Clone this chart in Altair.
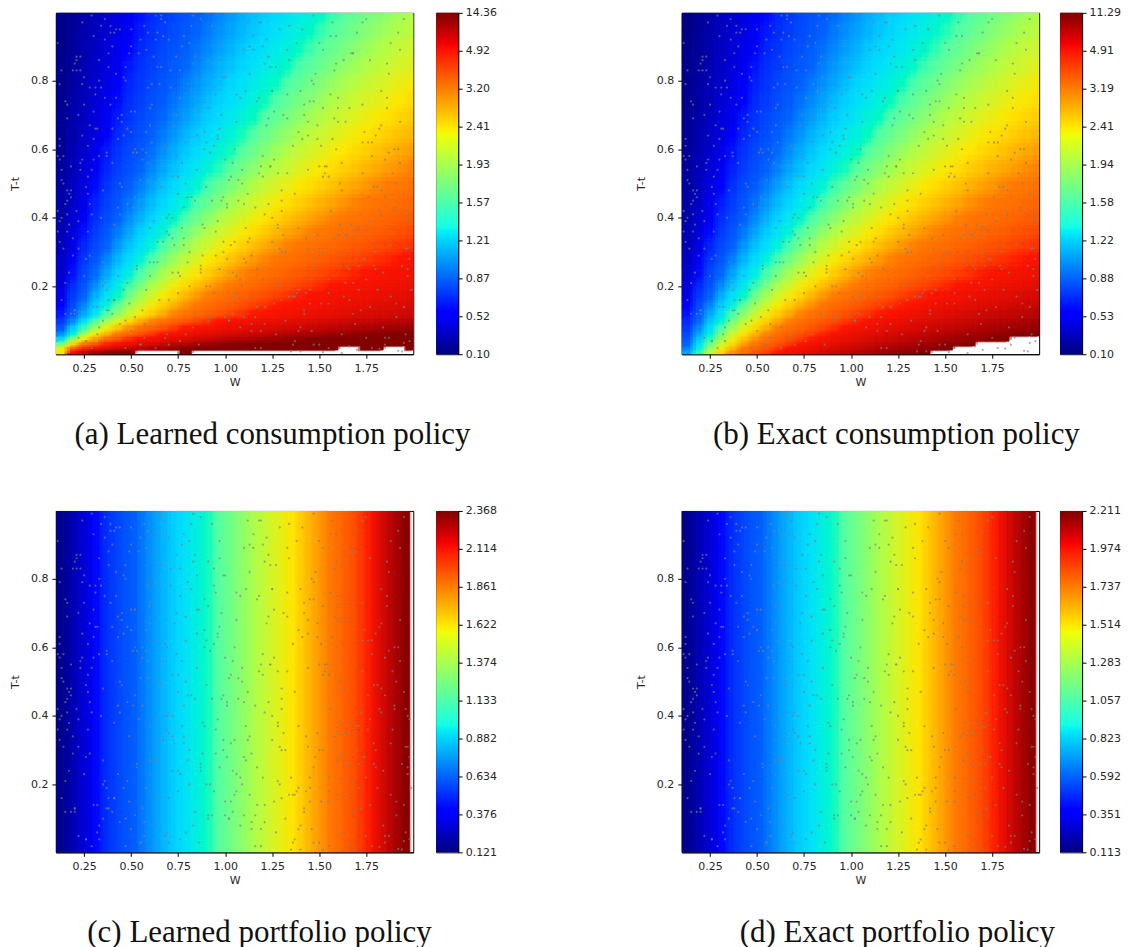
import altair as alt
import pandas as pd

# ---------- cell edges ----------
w_edges = [0.10,0.16,0.22,0.28,0.34,0.40,0.46,0.52,0.58,0.64,0.70,0.76,0.82,0.88,0.94,1.00,1.06,1.12,1.18,1.24,1.30,1.36,1.42,1.48,1.54,1.60,1.66,1.72,1.78,1.84,1.90,1.96,2.00]
t_edges = [0.002,0.014,0.026,0.04,0.055,0.07,0.09,0.11,0.135,0.16,0.19,0.22,0.26,0.30,0.34,0.38,0.42,0.47,0.52,0.57,0.62,0.67,0.72,0.77,0.82,0.87,0.92,0.97,0.998]
N = None
# ---------- consumption values, rows bottom to top ----------
learned_bottom = [
[2.4,6.0,9.0,11,13,14,14,N,N,N,N,14,N,N,N,N,N,N,N,N,N,N,N,N,N,N,N,N,N,N,N,N],
[2.3,3.6,4.7,5.8,6.9,8.0,9.0,10,11,12,13,14,14,14,14,14,14,14,14,14,14,14,14,14,14,N,N,14,14,N,N,14],
[1.7,2.5,3.2,4.0,4.8,5.6,6.4,7.1,7.9,8.7,9.5,10.3,11,11.8,12.6,13.4,14,14,14,14,14,14,14,14,14,14,14,14,14,14,14,14],
[1.24,1.8,2.4,2.9,3.5,4.1,4.7,5.2,5.8,6.4,6.9,7.5,8.1,8.6,9.2,9.8,10.4,10.9,11.5,12,12.6,13.2,13.8,14,14,14,14,14,14,14,14,14],
[.98,1.43,1.88,2.33,2.78,3.23,3.68,4.13,4.58,5.03,5.48,5.93,6.38,6.83,7.28,7.73,8.18,8.63,9.08,9.53,9.98,10.4,10.9,11.3,11.8,12.2,12.7,13.1,13.6,14,14,14],
[.81,1.18,1.55,1.92,2.29,2.67,3.04,3.41,3.78,4.15,4.53,4.90,5.27,5.64,6.01,6.39,6.76,7.13,7.50,7.87,8.25,8.62,8.99,9.36,9.73,10.1,10.5,10.9,11.2,11.6,12,12.3],
[.66,.97,1.28,1.58,1.89,2.19,2.50,2.81,3.11,3.42,3.72,4.03,4.34,4.64,4.95,5.25,5.56,5.87,6.17,6.48,6.78,7.09,7.40,7.70,8.01,8.31,8.62,8.93,9.23,9.54,9.84,10.1],
]
exact_bottom = [
[1.06,1.54,2.03,2.52,3.01,3.50,3.98,4.47,4.96,5.45,5.93,6.42,6.91,7.40,7.89,8.37,8.86,9.35,9.84,10.3,10.8,11.2,N,N,N,N,N,N,N,N,N,N],
[.96,1.41,1.85,2.30,2.74,3.19,3.63,4.08,4.52,4.96,5.41,5.85,6.30,6.74,7.19,7.63,8.08,8.52,8.97,9.41,9.86,10.3,10.7,11.2,N,N,N,N,N,N,N,N],
[.88,1.28,1.69,2.10,2.50,2.91,3.31,3.72,4.12,4.53,4.93,5.34,5.75,6.15,6.56,6.96,7.37,7.77,8.18,8.59,8.99,9.40,9.80,10.2,10.6,11.0,N,N,N,N,N,N],
[.80,1.17,1.54,1.91,2.28,2.65,3.02,3.39,3.76,4.13,4.50,4.87,5.24,5.61,5.98,6.34,6.71,7.08,7.45,7.82,8.19,8.56,8.93,9.30,9.67,10.0,10.4,10.8,11.1,N,N,N],
[.73,1.07,1.41,1.75,2.09,2.43,2.77,3.11,3.45,3.79,4.12,4.46,4.80,5.14,5.48,5.82,6.16,6.50,6.84,7.18,7.51,7.85,8.19,8.53,8.87,9.21,9.55,9.89,10.2,10.6,10.9,11.2],
[.67,.98,1.29,1.59,1.90,2.21,2.52,2.83,3.14,3.44,3.75,4.06,4.37,4.68,4.99,5.29,5.60,5.91,6.22,6.53,6.84,7.14,7.45,7.76,8.07,8.38,8.69,9.00,9.30,9.61,9.92,10.2],
[.61,.89,1.17,1.45,1.73,2.01,2.29,2.57,2.85,3.13,3.41,3.69,3.97,4.25,4.53,4.81,5.09,5.37,5.65,5.93,6.21,6.49,6.77,7.05,7.33,7.61,7.89,8.17,8.45,8.73,9.01,9.25],
]
upper_rows = [
[.55,.81,1.06,1.31,1.57,1.82,2.08,2.33,2.59,2.84,3.10,3.35,3.60,3.86,4.11,4.37,4.62,4.88,5.13,5.38,5.64,5.89,6.15,6.40,6.66,6.91,7.17,7.42,7.67,7.93,8.18,8.40],
[.50,.73,.96,1.19,1.42,1.65,1.88,2.11,2.34,2.57,2.80,3.03,3.26,3.49,3.72,3.96,4.19,4.42,4.65,4.88,5.11,5.34,5.57,5.80,6.03,6.26,6.49,6.72,6.95,7.18,7.41,7.60],
[.45,.66,.87,1.08,1.29,1.50,1.71,1.91,2.12,2.33,2.54,2.75,2.96,3.17,3.38,3.58,3.79,4.00,4.21,4.42,4.63,4.84,5.05,5.25,5.46,5.67,5.88,6.09,6.30,6.51,6.72,6.89],
[.41,.60,.79,.98,1.17,1.36,1.55,1.74,1.93,2.12,2.31,2.50,2.69,2.88,3.07,3.25,3.44,3.63,3.82,4.01,4.20,4.39,4.58,4.77,4.96,5.15,5.34,5.53,5.72,5.91,6.10,6.26],
[.37,.54,.72,.89,1.06,1.23,1.40,1.57,1.74,1.92,2.09,2.26,2.43,2.60,2.77,2.95,3.12,3.29,3.46,3.63,3.80,3.98,4.15,4.32,4.49,4.66,4.83,5.01,5.18,5.35,5.52,5.66],
[.34,.49,.65,.80,.95,1.11,1.26,1.42,1.57,1.73,1.88,2.04,2.19,2.35,2.50,2.66,2.81,2.97,3.12,3.28,3.43,3.59,3.74,3.90,4.05,4.21,4.36,4.52,4.67,4.82,4.98,5.11],
[.31,.45,.59,.73,.87,1.01,1.15,1.29,1.43,1.57,1.72,1.86,2.00,2.14,2.28,2.42,2.56,2.70,2.84,2.98,3.13,3.27,3.41,3.55,3.69,3.83,3.97,4.11,4.25,4.39,4.54,4.65],
[.28,.41,.54,.67,.80,.93,1.06,1.19,1.32,1.45,1.58,1.71,1.84,1.97,2.10,2.22,2.35,2.48,2.61,2.74,2.87,3.00,3.13,3.26,3.39,3.52,3.65,3.78,3.91,4.04,4.17,4.28],
[.26,.38,.50,.62,.74,.86,.98,1.10,1.22,1.34,1.46,1.58,1.70,1.82,1.94,2.06,2.18,2.30,2.42,2.54,2.66,2.78,2.90,3.02,3.14,3.26,3.38,3.50,3.62,3.74,3.86,3.96],
[.24,.35,.46,.57,.68,.80,.91,1.02,1.13,1.24,1.35,1.46,1.57,1.68,1.79,1.91,2.02,2.13,2.24,2.35,2.46,2.57,2.68,2.79,2.90,3.02,3.13,3.24,3.35,3.46,3.57,3.66],
[.22,.32,.43,.53,.63,.74,.84,.94,1.04,1.15,1.25,1.35,1.45,1.56,1.66,1.76,1.86,1.97,2.07,2.17,2.27,2.38,2.48,2.58,2.68,2.79,2.89,2.99,3.10,3.20,3.30,3.39],
[.21,.30,.40,.49,.58,.68,.77,.87,.96,1.06,1.15,1.25,1.34,1.44,1.53,1.63,1.72,1.82,1.91,2.01,2.10,2.20,2.29,2.39,2.48,2.58,2.67,2.77,2.86,2.95,3.05,3.13],
[.19,.28,.37,.46,.55,.64,.73,.81,.90,.99,1.08,1.17,1.26,1.35,1.44,1.52,1.61,1.70,1.79,1.88,1.97,2.06,2.15,2.23,2.32,2.41,2.50,2.59,2.68,2.77,2.86,2.93],
[.18,.26,.35,.43,.51,.60,.68,.76,.85,.93,1.01,1.10,1.18,1.26,1.35,1.43,1.52,1.60,1.68,1.77,1.85,1.93,2.02,2.10,2.18,2.27,2.35,2.43,2.52,2.60,2.68,2.75],
[.17,.25,.33,.41,.48,.56,.64,.72,.80,.88,.96,1.03,1.11,1.19,1.27,1.35,1.43,1.51,1.59,1.66,1.74,1.82,1.90,1.98,2.06,2.14,2.21,2.29,2.37,2.45,2.53,2.59],
[.16,.24,.31,.38,.46,.53,.61,.68,.76,.83,.91,.98,1.05,1.13,1.20,1.28,1.35,1.43,1.50,1.57,1.65,1.72,1.80,1.87,1.95,2.02,2.10,2.17,2.24,2.32,2.39,2.46],
[.15,.22,.30,.37,.44,.51,.58,.65,.72,.79,.86,.93,1.00,1.07,1.14,1.22,1.29,1.36,1.43,1.50,1.57,1.64,1.71,1.78,1.85,1.92,1.99,2.07,2.14,2.21,2.28,2.34],
[.15,.21,.28,.35,.41,.48,.55,.62,.68,.75,.82,.88,.95,1.02,1.09,1.15,1.22,1.29,1.36,1.42,1.49,1.56,1.62,1.69,1.76,1.83,1.89,1.96,2.03,2.09,2.16,2.22],
[.14,.20,.27,.33,.40,.46,.52,.59,.65,.72,.78,.85,.91,.97,1.04,1.10,1.17,1.23,1.29,1.36,1.42,1.49,1.55,1.62,1.68,1.74,1.81,1.87,1.94,2.00,2.07,2.12],
[.13,.19,.26,.32,.38,.44,.50,.56,.62,.68,.74,.81,.87,.93,.99,1.05,1.11,1.17,1.23,1.30,1.36,1.42,1.48,1.54,1.60,1.66,1.72,1.79,1.85,1.91,1.97,2.02],
[.13,.19,.25,.31,.37,.43,.49,.54,.60,.66,.72,.78,.84,.90,.96,1.02,1.08,1.14,1.20,1.26,1.32,1.38,1.44,1.49,1.55,1.61,1.67,1.73,1.79,1.85,1.91,1.96],
]
# ---------- portfolio values, by W column ----------
pw_edges = [0.10,0.14,0.18,0.22,0.26,0.30,0.34,0.38,0.42,0.46,0.50,0.54,0.58,0.62,0.66,0.70,0.74,0.78,0.82,0.86,0.90,0.94,0.98,1.02,1.06,1.10,1.14,1.18,1.22,1.26,1.30,1.34,1.38,1.42,1.46,1.50,1.54,1.58,1.62,1.66,1.70,1.74,1.78,1.82,1.86,1.90,1.94,1.98]
learned_port = [.145,.193,.241,.289,.336,.384,.432,.480,.528,.575,.623,.671,.719,.767,.814,.862,.910,.958,1.006,1.053,1.101,1.149,1.197,1.245,1.292,1.340,1.388,1.436,1.484,1.531,1.579,1.627,1.675,1.723,1.770,1.818,1.866,1.914,1.962,2.009,2.057,2.105,2.153,2.201,2.248,2.296,2.344]
exact_port = [.135,.180,.224,.269,.313,.358,.403,.447,.492,.536,.581,.626,.670,.715,.759,.804,.849,.893,.938,.982,1.027,1.072,1.116,1.161,1.205,1.250,1.295,1.339,1.384,1.428,1.473,1.518,1.562,1.607,1.651,1.696,1.741,1.785,1.830,1.874,1.919,1.964,2.008,2.053,2.097,2.142,2.187]
# ---------- colorbar ticks ----------
ticks_a = ["0.10","0.52","0.87","1.21","1.57","1.93","2.41","3.20","4.92","14.36"]
ticks_b = ["0.10","0.53","0.88","1.22","1.58","1.94","2.41","3.19","4.91","11.29"]
ticks_c = ["0.121","0.376","0.634","0.882","1.133","1.374","1.622","1.861","2.114","2.368"]
ticks_d = ["0.113","0.351","0.592","0.823","1.057","1.283","1.514","1.737","1.974","2.211"]
jet_at_ticks = ["#00007f","#0000ff","#0063ff","#00d4ff","#4dffa9","#aaff4d","#ffe600","#ff7a00","#ff1500","#7f0000"]
jet_offsets = [0,.11,.125,.35,.375,.64,.66,.89,.91,1]
jet_colors = ["#00007f","#0000ff","#0000ff","#00e5f8","#14ffe6","#eeff09","#ffed00","#ff1200","#f20000","#7f0000"]
# ---------- sample dots ----------
sample_w = [
.13,1.42,.77,1.88,.35,.96,1.61,.22,1.17,.58,1.95,.44,1.29,.83,.16,1.73,.62,1.08,1.51,.29,1.91,.71,1.34,.49,1.02,
.19,1.66,.91,1.23,.38,1.82,.55,1.47,.11,.99,1.37,.67,1.76,.26,1.14,.79,1.98,.42,1.56,.87,.32,1.21,.64,1.85,.15,
1.06,.52,1.69,.24,1.44,.75,1.93,.37,1.11,.85,1.59,.47,1.27,.18,1.79,.94,.59,1.39,.31,1.71,1.01,.69,1.54,.12,1.87,
.41,1.19,.81,1.49,.27,1.97,.61,1.32,.93,.21,1.64,.53,1.09,1.83,.36,.76,1.41,.14,1.25,.66,1.74,.45,1.03,1.58,.89,
.23,1.9,.56,1.36,.72,1.13,.33,1.81,.97,.17,1.52,.63,1.28,.4,1.68,.84,1.96,.5,1.16,.28,1.45,.74,1.05,1.77,.2,
.6,1.33,.9,1.62,.34,1.2,.78,1.89,.46,1.0,1.55,.25,1.72,.68,1.3,.12,.95,1.43,.54,1.84,.39,1.12,.82,1.6,.3,
1.92,.7,1.24,.48,1.07,1.67,.16,.88,1.38,.57,1.78,.43,1.18,.65,1.5,.22,1.94,.8,1.31,.35,1.04,1.63,.51,.92,1.75,
.13,1.22,.73,1.46,.29,1.86,.6,1.15,.98,.38,1.57,.19,1.35,.77,1.7,.44,1.1,.86,1.99,.26,1.48,.67,1.26,.11,1.8,
.55,.94,1.4,.33,1.65,.75,1.17,.48,1.88,.21,1.53,.83,1.02,.62,1.73,.37,1.29,.15,.91,1.44,.58,1.95,.42,1.11,.79,
1.6,.27,1.36,.69,1.83,.5,1.06,.18,1.47,.87,1.23,.32,1.76,.64,.99,1.55,.24,1.91,.72,1.33,.41,1.14,.85,1.68,.13,
.56,1.42,1.0,.3,1.79,.66,1.21,.46,1.58,.9,.2,1.97,.76,1.28,.36,1.09,1.5,.6,1.85,.16,.97,1.39,.52,1.71,.28,
1.19,.81,1.62,.43,1.93,.7,1.04,.23,1.45,.89,1.3,.34,1.74,.59,1.13,.12,1.52,.78,1.87,.47,1.25,.96,.39,1.66,.63,
1.4,1.55,1.7,1.85,1.98,1.47,1.62,1.78,1.92,1.52,1.66,1.82,1.95,.8,1.1,1.3,.5,.65,.95,1.2,1.6,.3,.4,.7,1.05,
1.12,.31,1.77,.58,1.25,.93,.17,1.64,.44,1.03,1.86,.72,.25,1.38,.61,1.52,.11,.84,1.96,.47,1.19,.36,1.73,.69,1.31,
.2,1.44,.88,1.59,.53,1.08,1.81,.29,.76,1.26,.14,1.67,.41,.97,1.9,.63,1.35,.23,1.16,.82,1.49,.56,1.75,.33,1.01,
1.61,.46,.91,1.29,.16,1.84,.68,1.13,.38,1.55,.79,1.97,.27,1.22,.59,1.42,.12,1.7,.86,.5,1.06,1.33,.21,1.78,.66,
.95,1.47,.35,1.18,.74,1.88,.43,1.63,.18,1.0,1.37,.54,1.92,.28,.81,1.24,.62,1.56,.15,1.1,.4,1.69,.89,1.4,.3,
1.83,.57,1.04,.24,1.51,.71,1.28,.45,1.94,.13,.99,1.6,.37,1.15,.78,1.76,.52,1.34,.19,.85,1.45,.65,1.87,.32,1.21,
.49,1.72,.92,.26,1.57,1.07,.6,1.39,.16,1.8,.75,1.2,.42,1.65,.98,.34,1.5,.7,1.93,.22,1.11,.55,1.3,.83,1.68,
.12,1.43,.64,1.02,1.85,.39,.87,1.53,.29,1.17,.73,1.98,.47,1.27,.14,1.62,.94,.51,1.36,.77,1.09,.25,1.74,.6,1.46,
.33,1.89,.8,1.23,.44,1.58,.18,1.05,.67,1.41,.9,1.79,.36,1.14,.56,1.32,.21,1.66,.96,.48,1.95,.72,1.26,.11,1.52,
.63,1.0,1.82,.31,1.19,.85,1.48,.4,1.71,.15,1.37,.58,.93,1.6,.27,1.12,.76,1.91,.5,1.25,.69,1.44,.2,1.77,1.03,
.37,1.55,.82,1.3,.53,1.86,.13,1.08,.66,1.39,.24,1.64,.97,.45,1.21,.74,1.97,.3,1.5,.61,1.16,.87,1.73,.41,1.34,
.17,1.59,.91,.55,1.83,.28,1.06,.7,1.47,.35,1.24,.79,1.68,.12,.99,1.42,.49,1.9,.64,1.13,.22,1.56,.84,1.33,.43,
1.75,.59,1.01,.26,1.49,.78,1.2,.38,1.62,.16,.94,1.8,.52,1.28,.68,1.1,.33,1.7,.89,1.45,.23,1.96,.57,1.18,.75,
]
sample_t = [
.83,.12,.56,.91,.27,.64,.38,.05,.74,.19,.47,.95,.31,.08,.69,.53,.87,.22,.61,.41,.15,.78,.96,.34,.51,
.29,.72,.11,.44,.88,.66,.03,.25,.58,.81,.17,.93,.36,.49,.07,.62,.28,.75,.42,.98,.14,.85,.33,.57,.21,
.68,.46,.09,.79,.54,.24,.89,.13,.37,.71,.6,.02,.84,.48,.32,.18,.94,.65,.76,.26,.43,.06,.55,.39,.82,
.16,.97,.3,.67,.52,.23,.73,.1,.45,.86,.35,.59,.2,.77,.92,.04,.63,.5,.4,.99,.28,.7,.15,.83,.37,
.56,.42,.13,.61,.34,.9,.8,.19,.25,.47,.72,.08,.53,.66,.12,.87,.31,.95,.02,.44,.74,.58,.17,.39,.85,
.27,.69,.49,.06,.78,.22,.93,.36,.64,.11,.52,.81,.41,.05,.3,.57,.76,.18,.88,.24,.96,.33,.46,.68,.14,
.6,.03,.84,.21,.51,.38,.73,.29,.91,.09,.62,.43,.97,.16,.55,.7,.26,.79,.35,.48,.12,.86,.59,.2,.98,
.4,.67,.32,.07,.54,.75,.23,.89,.45,.13,.63,.83,.01,.37,.94,.5,.28,.71,.19,.04,.82,.56,.15,.42,.3,
.92,.61,.77,.08,.35,.47,.25,.66,.17,.87,.53,.99,.1,.39,.73,.58,.2,.44,.85,.31,.65,.14,.95,.27,.5,
.72,.36,.03,.6,.41,.9,.18,.55,.79,.24,.69,.06,.46,.84,.33,.22,.97,.11,.52,.76,.38,.29,.64,.88,.16,
.43,.7,.57,.93,.26,.49,.09,.81,.34,.62,.13,.4,.75,.21,.98,.54,.3,.67,.05,.45,.86,.19,.6,.37,.78,
.07,.91,.48,.23,.68,.35,.56,.83,.15,.74,.42,.96,.28,.51,.17,.63,.89,.32,.59,.1,.77,.39,.94,.25,.02,
.01,.02,.015,.03,.04,.03,.005,.02,.012,.008,.025,.018,.035,.46,.89,.16,.71,.5,.36,.58,.27,.63,.12,.92,.33,
.47,.78,.14,.59,.33,.96,.24,.68,.09,.52,.85,.4,.73,.18,.62,.3,.91,.45,.06,.8,.55,.21,.97,.36,.7,
.12,.64,.38,.93,.26,.75,.49,.02,.83,.57,.31,.88,.16,.66,.43,.99,.22,.54,.11,.77,.35,.6,.05,.86,.28,
.5,.19,.72,.95,.41,.08,.61,.34,.84,.15,.69,.25,.47,.92,.56,.13,.79,.37,.03,.65,.23,.89,.42,.58,.98,
.29,.74,.1,.53,.87,.32,.63,.17,.46,.81,.04,.39,.94,.67,.2,.55,.27,.76,.12,.44,.9,.35,.6,.08,.71,
.48,.96,.24,.57,.15,.83,.38,.68,.01,.51,.3,.75,.19,.93,.43,.62,.11,.86,.34,.54,.22,.79,.05,.66,.41,
.88,.13,.59,.28,.97,.45,.72,.07,.36,.64,.18,.52,.82,.26,.7,.4,.91,.16,.56,.31,.77,.03,.48,.85,.21,
.61,.34,.94,.1,.46,.73,.25,.55,.99,.14,.67,.39,.84,.06,.58,.29,.78,.43,.17,.9,.5,.23,.65,.37,.8,
.04,.53,.27,.87,.41,.69,.12,.6,.33,.95,.2,.49,.75,.09,.57,.3,.83,.16,.63,.44,.98,.24,.71,.36,.52,
.92,.15,.42,.66,.02,.81,.28,.56,.19,.74,.47,.89,.11,.35,.61,.97,.23,.5,.07,.77,.4,.68,.13,.86,.32,
.59,.18,.96,.45,.25,.72,.54,.08,.84,.37,.64,.21,.91,.49,.14,.7,.31,.57,.03,.79,.43,.26,.62,.94,.17,
.38,.85,.1,.51,.67,.29,.76,.41,.99,.2,.55,.06,.88,.33,.46,.73,.15,.6,.27,.82,.39,.93,.12,.53,.69,
.22,.78,.44,.04,.63,.34,.9,.16,.56,.48,.83,.25,.71,.37,.97,.11,.58,.3,.65,.19,.87,.42,.05,.75,.52,
]

def cells(rows):
    out = []
    for j, row in enumerate(rows):
        for i, v in enumerate(row):
            if v is not None:
                out.append(dict(x0=w_edges[i], x1=w_edges[i + 1], y0=t_edges[j], y1=t_edges[j + 1], v=v))
    return pd.DataFrame(out)

def strip(vals):
    return pd.DataFrame([dict(x0=pw_edges[i], x1=pw_edges[i + 1], y0=0.002, y1=0.998, v=v) for i, v in enumerate(vals)])

def moved(df, sign, vertical):
    # the same cells nudged a quarter of their own size, drawn translucently over the
    # base layer so that the cell steps read as the smooth contours of the reference
    d = df.copy()
    dx = (d.x1 - d.x0) * 0.25 * sign
    d["x0"] += dx
    d["x1"] += dx
    if vertical:
        dy = (d.y1 - d.y0) * 0.25 * sign
        d["y0"] += dy
        d["y1"] += dy
    return d

dots = pd.DataFrame(dict(x=sample_w, y=sample_t))
FONT = "DejaVu Sans"
PW, PH, CW = 358, 342, 22
xs = alt.Scale(domain=[0.1, 2.0], nice=False, zero=False)
ys = alt.Scale(domain=[0.002, 0.998], nice=False, zero=False)
xaxis = alt.Axis(values=[.25,.5,.75,1,1.25,1.5,1.75], format=".2f", title="W", grid=False, titlePadding=3, labelPadding=4)
yaxis = alt.Axis(values=[.2,.4,.6,.8], format=".1f", title="T-t", grid=False, titlePadding=10, labelPadding=4)

def panel(df, ticks, caption, cx, cy, vertical=True):
    dom = [float(t) for t in ticks]
    cs = alt.Scale(domain=dom, range=jet_at_ticks, clamp=True)
    heat = alt.Chart(df).mark_rect(clip=True, strokeWidth=0.7).encode(
        x=alt.X("x0:Q", scale=xs, axis=xaxis), x2="x1:Q",
        y=alt.Y("y0:Q", scale=ys, axis=yaxis), y2="y1:Q",
        color=alt.Color("v:Q", scale=cs, legend=None),
        stroke=alt.Stroke("v:Q", scale=cs, legend=None),
    )
    def veil(sign, op):
        return alt.Chart(moved(df, sign, vertical)).mark_rect(clip=True, opacity=op).encode(
            x=alt.X("x0:Q", scale=xs), x2="x1:Q",
            y=alt.Y("y0:Q", scale=ys), y2="y1:Q",
            color=alt.Color("v:Q", scale=cs, legend=None),
        )
    pts = alt.Chart(dots).mark_circle(size=5, color="#808080", opacity=0.65, clip=True).encode(
        x=alt.X("x:Q", scale=xs), y=alt.Y("y:Q", scale=ys))
    cap = alt.Chart(pd.DataFrame({"t": [caption]})).mark_text(
        font="Liberation Serif", fontSize=31, color="#111111", baseline="middle", align="center"
    ).encode(text="t:N", x=alt.value(cx), y=alt.value(cy))
    return alt.layer(heat, veil(-1, 0.5), veil(1, 0.33), pts, cap).properties(width=PW, height=PH)

def colorbar(ticks):
    labels = "[" + ",".join("'%s'" % t for t in ticks) + "][datum.value]"
    grad = alt.Gradient(gradient="linear", x1=0, x2=0, y1=1, y2=0,
                        stops=[alt.GradientStop(color=c, offset=o) for c, o in zip(jet_colors, jet_offsets)])
    return alt.Chart(pd.DataFrame({"a": [0], "b": [9]})).mark_rect(fill=grad).encode(
        x=alt.value(0), x2=alt.value(CW),
        y=alt.Y("a:Q", scale=alt.Scale(domain=[0, 9], nice=False),
                axis=alt.Axis(orient="right", values=list(range(10)), labelExpr=labels, title=None, grid=False)),
        y2="b:Q",
    ).properties(width=CW, height=PH)

def spacer(w):
    return alt.Chart(pd.DataFrame({"a": [0]})).mark_point(opacity=0).encode(
        x=alt.value(0), y=alt.value(0)
    ).properties(width=w, height=PH, view=alt.ViewBackground(stroke="transparent"))

lc = cells(learned_bottom + upper_rows)
ec = cells(exact_bottom + upper_rows)
charts = [
    panel(lc, ticks_a, "(a) Learned consumption policy", 217, 423), spacer(23), colorbar(ticks_a), spacer(224),
    panel(ec, ticks_b, "(b) Exact consumption policy", 215, 423), spacer(21), colorbar(ticks_b),
    panel(strip(learned_port), ticks_c, "(c) Learned portfolio policy", 204, 423, vertical=False), spacer(23), colorbar(ticks_c), spacer(224),
    panel(strip(exact_port), ticks_d, "(d) Exact portfolio policy", 216, 423, vertical=False), spacer(21), colorbar(ticks_d),
]
chart = alt.concat(*charts, columns=7).properties(
    spacing={"row": 157, "column": 0}, bounds="flush", align="each",
    padding={"left": 1, "top": -3, "right": 0, "bottom": 0},
).resolve_scale(color="independent", stroke="independent").configure_view(stroke="black", strokeWidth=1).configure_axis(
    labelFont=FONT, titleFont=FONT, labelFontSize=11, titleFontSize=11, titleFontWeight="normal",
    labelColor="#262626", titleColor="#262626", tickColor="black", domainColor="black", tickSize=4,
    labelPadding=3,
)
chart.save("out.html", embed_options={"renderer": "svg", "actions": False})
